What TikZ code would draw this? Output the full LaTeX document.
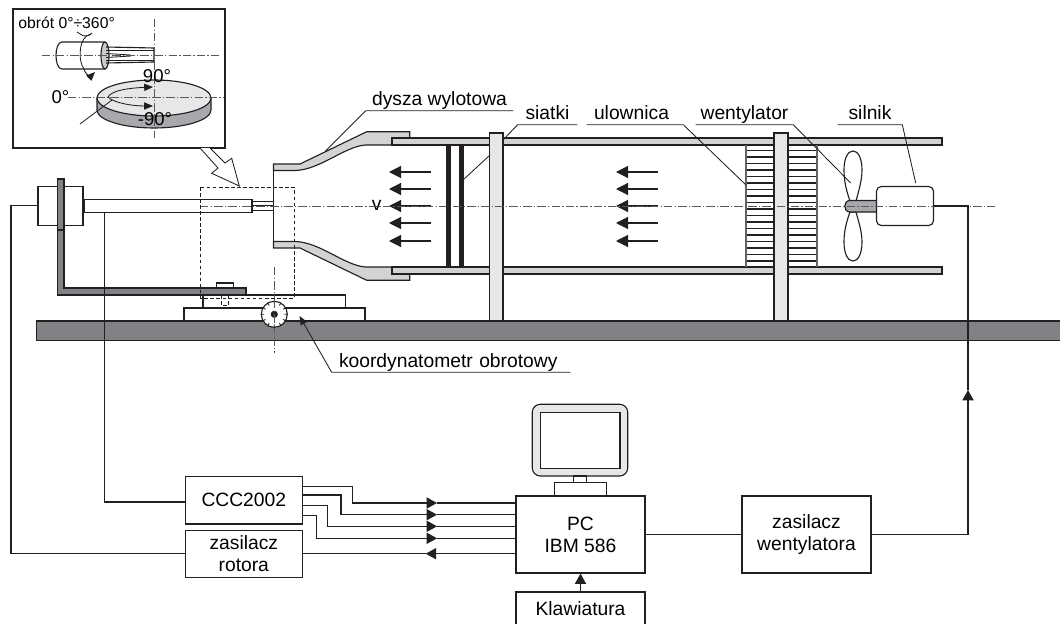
\documentclass[tikz,border=0pt]{standalone}
\usepackage{fontspec}
\setmainfont{Liberation Sans}
\usetikzlibrary{arrows.meta,calc}
\definecolor{ink}{HTML}{231F20}
\definecolor{palegrey}{HTML}{E6E7E8}
\definecolor{lightgrey}{HTML}{D1D3D4}
\definecolor{midgrey}{HTML}{A7A9AC}
\definecolor{deskgrey}{HTML}{808285}
\def\px{0.25mm}
\tikzstyle{wire}=[draw=ink, line width=0.8pt]
\tikzstyle{fine}=[draw=ink, line width=0.6pt]
\tikzstyle{box}=[rectangle, draw=ink, line width=0.8pt, fill=white, align=center, inner sep=0pt,
  font=\fontsize{13.7}{15.7}\selectfont]
\tikzstyle{lab}=[inner xsep=0pt, inner ysep=3.3pt, text depth=0pt, anchor=south,
  font=\fontsize{13.7}{15.7}\selectfont]
\tikzstyle{txt}=[inner sep=0pt, font=\fontsize{13.2}{15}\selectfont]
\tikzstyle{axisline}=[draw=ink!75, line width=0.5pt, dash pattern=on 6pt off 1.5pt on 1pt off 1.5pt]
\tikzstyle{hairdash}=[draw=ink, line width=0.6pt, dash pattern=on 2.6pt off 1.7pt]
\tikzstyle{head}=[-{Stealth[length=2.6mm,width=2.8mm,inset=0pt]}]
\tikzstyle{flowhead}=[-{Stealth[length=3mm,width=3mm,inset=0pt]}]
\tikzstyle{smallhead}=[-{Stealth[length=2.2mm,width=1.8mm,inset=0pt]}]

\begin{document}
\begin{tikzpicture}[x=0.025cm,y=-0.025cm]
\useasboundingbox (0,0) rectangle (1060,624);
\clip (0,0) rectangle (1060,624);
% stol
\draw[wire,fill=deskgrey] (36.5,321) rectangle (1064,340.5);
% podstawa i koordynatometr
\draw[wire,fill=white] (184,308) rectangle (365,321);
\draw[wire,fill=white] (203,295) rectangle (345.5,308);
\draw[wire,fill=white] (216.7,283) rectangle (233.3,288.5);
\draw[hairdash] (221.7,295)--(221.7,305.5)--(228.5,305.5)--(228.5,295);
% wspornik sondy
\draw[wire,fill=deskgrey] (57.5,179)--(64,179)--(64,288)--(246,288)--(246,295)--(57.5,295)--cycle;
\node[box,minimum width=45*\px,minimum height=39*\px] (block) at (60.5,205.7) {};
\draw[wire,fill=deskgrey] (57.5,179)--(64,179)--(64,230)--(57.5,230)--cycle;
\node[box,minimum width=168*\px,minimum height=13.4*\px] (rod) at (168,206) {};
\foreach \y in {201.7,205,210}
  \draw[fine] (rod.east |- 0,\y)--(273,\y);
% dysza wylotowa
\draw[wire,fill=lightgrey] (273.5,164)--(300,164)--(366.7,131.7)--(409.7,131.7)--(409.7,145)--(366,145)
  .. controls (345,146) and (320,170) .. (295,170.5) -- (273.5,170.5)--cycle;
\draw[wire,fill=lightgrey] (273.5,248)--(300,248)--(366.7,280.3)--(409.7,280.3)--(409.7,267)--(366,267)
  .. controls (345,266) and (320,242) .. (295,241.5) -- (273.5,241.5)--cycle;
\draw[wire] (273.5,164)--(273.5,248);
% rura
\draw[wire,fill=lightgrey] (392,138) rectangle (942,145);
\draw[wire,fill=lightgrey] (392,267) rectangle (942,274);
% siatki
\foreach \x in {446,459}
  \fill[ink] (\x,145) rectangle ({\x+4.5},267);
% ulownica
\foreach \i in {0,...,17}
  \draw[wire,line width=1pt] (746,{150.7+\i*6.5})--(817,{150.7+\i*6.5});
\draw[draw=ink!70,line width=1.1pt] (746,145)--(746,267);
\draw[draw=ink!70,line width=1.1pt] (817,145)--(817,267);
% przeplyw
\foreach \x in {389,616}
  \foreach \y in {172,189,206,223,241}
    \draw[wire,flowhead] ({\x+42},\y)--(\x,\y);
\node[lab,anchor=center] (vel) at (376.7,205) {v};
% wentylator i silnik
\draw[wire,fill=white] (850,201) .. controls (846,190) and (844,180) .. (844,170)
  .. controls (844,158) and (848,151) .. (853,151) .. controls (858,151) and (862,158) .. (862,170)
  .. controls (862,180) and (859,190) .. (856,201)--cycle;
\draw[wire,fill=white] (850,212) .. controls (846,223) and (844,232) .. (844,242)
  .. controls (844,254) and (848,261) .. (853,261) .. controls (858,261) and (862,254) .. (862,242)
  .. controls (862,232) and (859,223) .. (856,212)--cycle;
\draw[wire,fill=midgrey] (877,200.5)--(850,200.5) .. controls (843,200.5) and (843,212) .. (850,212)--(877,212)--cycle;
\node[box,rounded corners=1.2mm,minimum width=57*\px,minimum height=39*\px] (silnik) at (905,206) {};
% podpory
\draw[wire,fill=palegrey] (489.5,133) rectangle (503,321);
\draw[wire,fill=palegrey] (774,133) rectangle (788,321);
% osie i obszar wymiany
\draw[axisline] (200,206)--(995,206);
\draw[axisline] (274.3,267)--(274.3,353);
\draw[hairdash] (200.5,187) rectangle (294,298);
% tarcza koordynatometru
\node[circle,draw=ink,line width=0.8pt,fill=white,minimum size=26*\px,inner sep=0pt] (gonio) at (274.3,314.3) {};
\foreach \a in {0,30,...,330}
  \draw[fine] (gonio.\a)--($(gonio.center)!0.75!(gonio.\a)$);
\fill[ink] (gonio.center) circle [radius=3.6];
\draw[axisline] (274.3,300)--(274.3,328);
% opisy
\node[lab,minimum width=147*\px] (dysza) at (439.5,110.7) {dysza wylotowa};
\coordinate (dyszaend) at (325,151.5);
\draw[fine] (dysza.south east)--(dysza.south west)--(dyszaend);
\node[lab,minimum width=59*\px] (siatki) at (547.5,124.7) {siatki};
\coordinate (siatkiend) at (503,140);
\draw[fine] (siatki.south east)--(siatki.south west)--(siatkiend);
\draw[fine] (490,155)--(463,180);
\node[lab,minimum width=96*\px,text width=96*\px,align=left] (ulownica) at (635,124.7) {\hspace*{5pt}ulownica};
\coordinate (ulownicaend) at (746,185);
\draw[fine] (ulownica.south west)--(ulownica.south east)--(ulownicaend);
\node[lab,minimum width=97*\px] (wentylator) at (744.5,124.7) {wentylator};
\coordinate (wentylatorend) at (850.7,183);
\draw[fine] (wentylator.south west)--(wentylator.south east)--(wentylatorend);
\node[lab,minimum width=64*\px] (silnikt) at (870,124.7) {silnik};
\coordinate (silnikend) at (915.7,183);
\draw[fine] (silnikt.south west)--(silnikt.south east)--(silnikend);
\node[lab,minimum width=238*\px,text width=238*\px,align=left] (koord) at (451,372.3) {\hspace*{5pt}koordynatometr obrotowy};
\coordinate (koordend) at (299.5,316);
\draw[fine,smallhead] (koord.south east)--(koord.south west)--(koordend);
% powiekszenie sondy
\node[box,line width=1pt,minimum width=212*\px,minimum height=139*\px] (inset) at (119,78.5) {};
\node[inner sep=0pt,font=\fontsize{11.2}{13}\selectfont,anchor=west] (obrot) at (18,23) {obrót 0°÷360°};
\draw[wire,fill=white] (105,42)--(62,42) .. controls (54,42) and (54,69) .. (62,69)--(105,69);
\draw[wire,fill=midgrey!60] (105,55.5) ellipse [x radius=4,y radius=13.5];
\draw[wire] (106,47)--(154,48)--(154,62)--(106,63);
\draw[fine] (106,50)--(154,50);
\draw[fine] (106,60)--(154,60);
\draw[fine] (106,53.5)--(131,55);
\draw[fine] (106,57.5)--(131,56);
\draw[axisline] (42,55)--(220,55);
\draw[fine] (77,32) .. controls (80,34) and (83,36) .. (85,36) .. controls (88,36) and (91,35) .. (92,33);
\draw[fine] (91,34) .. controls (78,36) and (78,62) .. (84,69);
\draw[fine,smallhead] (84,69) .. controls (86,76) and (91,76) .. (95,72);
\draw[wire,fill=midgrey] (97,98)--(97,110) arc [start angle=180,end angle=0,x radius=57,y radius=18]--(211,98)--cycle;
\draw[wire,fill=palegrey] (154,98) ellipse [x radius=57,y radius=18];
\draw[axisline] (68,97)--(223,97);
\draw[axisline] (154,19)--(154,138);
\draw[fine,smallhead] (108,97) .. controls (112,90) and (130,88) .. (153,87);
\draw[fine,smallhead] (108,97) .. controls (112,102) and (130,106) .. (153,106);
\draw[fine] (80,124)--(112,100);
\node[txt] (deg90) at (157,76) {90°};
\node[txt] (deg0) at (60.5,97) {0°};
\node[txt] (degm90) at (155,119) {-90°};
% strzalka powiekszenia
\draw[fine,fill=white] (200,148)--(218,168)--(211.7,173.3)--(239.3,186)--(231.7,158.3)--(225,163)--(210,148);
% monitor
\draw[wire,fill=palegrey,rounded corners=2mm] (532.3,404.3) rectangle (627.7,476);
\draw[wire,fill=white] (540.7,412.7) rectangle (620,468.3);
\draw[wire,fill=white] (573.7,476) rectangle (586.7,482.7);
\draw[wire,fill=white] (554.3,482.7) rectangle (606.3,496);
% bloki
\node[box,minimum width=129*\px,minimum height=77*\px] (pc) at (580.5,534.5) {PC\\IBM 586};
\node[box,minimum width=129*\px,minimum height=77*\px] (zaswent) at (806.5,534.5) {zasilacz\\wentylatora};
\node[box,minimum width=129*\px,minimum height=34*\px] (klaw) at (580.5,609) {Klawiatura};
\node[box,minimum width=117*\px,minimum height=47.3*\px] (ccc) at (243.8,500.3) {CCC2002};
\node[box,minimum width=117*\px,minimum height=47*\px] (rotor) at (243.8,553.7) {zasilacz\\rotora};
% polaczenia
\foreach \ya/\xb/\yb in {486.3/352.3/503,495/341/514.7,505.7/327.7/526.3,515.7/316.7/538.3} {
  \draw[wire,head] (ccc.east |- 0,\ya)-|(\xb,\yb)--(437,\yb) coordinate (tip);
  \draw[wire] (tip)--(pc.west |- tip);
}
\coordinate (rotortip) at (425.7,553.7);
\draw[wire,head] (pc.west |- rotortip)--(rotortip);
\draw[wire] (rotortip)--(rotor.east);
\coordinate (rotorleft) at (11,553.7);
\draw[wire] (rotor.west)--(rotorleft)|-(block.west);
\coordinate (rodtap) at (104.7,212.7);
\draw[wire] (ccc.west |- 0,502)-|(rodtap);
\draw[wire] (pc.east |- zaswent)--(zaswent.west);
\coordinate (fantip) at (968,390);
\draw[wire,head] (zaswent.east)-|(fantip);
\draw[wire] (fantip)|-(silnik.east);
\draw[wire,head] (klaw.north)--(pc.south);
\end{tikzpicture}
\end{document}
